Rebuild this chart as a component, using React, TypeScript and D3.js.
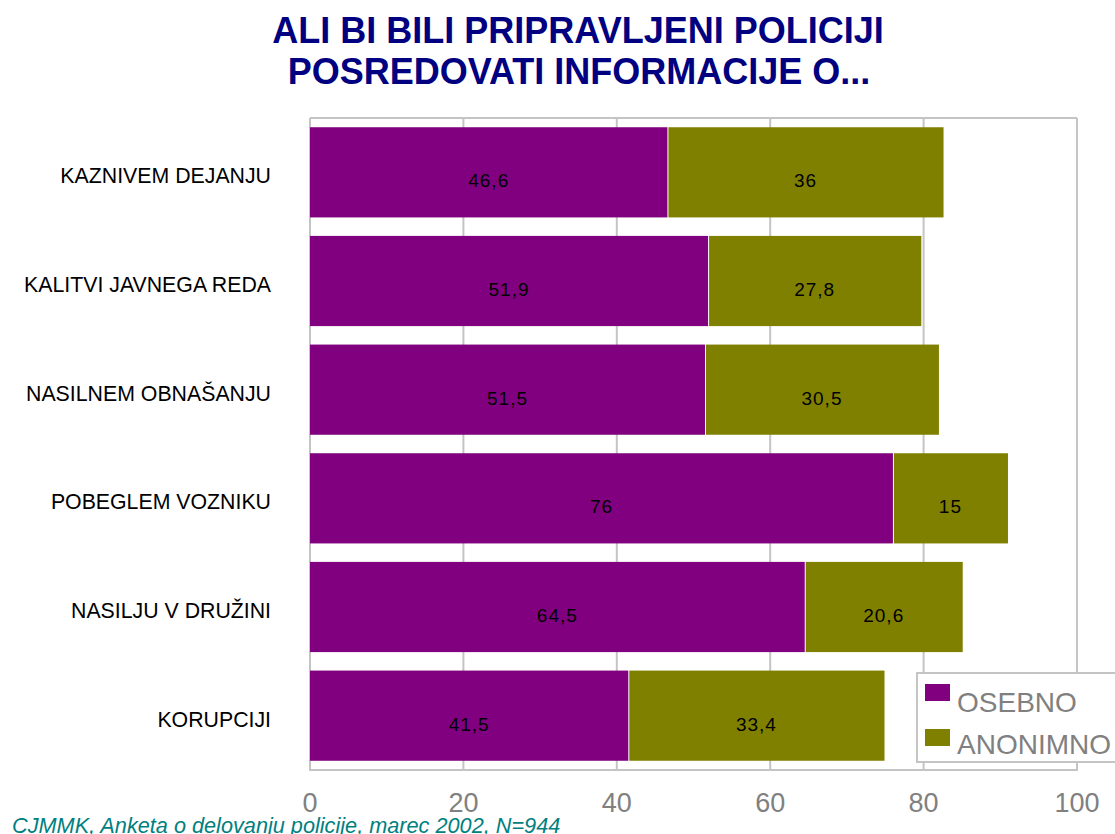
// @ts-nocheck
import React from "react";
import * as d3 from "d3";

const categories = [
  "KAZNIVEM DEJANJU",
  "KALITVI JAVNEGA REDA",
  "NASILNEM OBNAŠANJU",
  "POBEGLEM VOZNIKU",
  "NASILJU V DRUŽINI",
  "KORUPCIJI",
];
const osebno = [46.6, 51.9, 51.5, 76, 64.5, 41.5];
const anonimno = [36, 27.8, 30.5, 15, 20.6, 33.4];
const seriesNames = ["OSEBNO", "ANONIMNO"];
const xTicks = [0, 20, 40, 60, 80, 100];

const width = 1115;
const height = 834;
const FONT = "'Liberation Sans', Arial, Helvetica, sans-serif";
const colors = ["#800080", "#808000"];
const gridColor = "#c4c4c4";

const fmt = (v) => String(v).replace(".", ",");

export default function App() {
  const left = 310,
    right = 1077,
    top = 118,
    bottom = 770;

  const x = d3.scaleLinear().domain([0, 100]).range([left, right]);
  const y = d3
    .scaleBand()
    .domain(categories)
    .range([top, bottom])
    .paddingInner(0.17)
    .paddingOuter(0.085);

  const rows = categories.map((c, i) => ({ cat: c, a: osebno[i], b: anonimno[i] }));

  return (
    <>
      <style>{"body{margin:0;overflow:hidden}"}</style>
      <svg width={width} height={height} style={{ display: "block", fontFamily: FONT }}>
        <rect width={width} height={height} fill="#fff" />

        {/* title */}
        <text x={578} y={43} textAnchor="middle" fill="#000080" fontSize={36} fontWeight="bold">
          ALI BI BILI PRIPRAVLJENI POLICIJI
        </text>
        <text x={579} y={84} textAnchor="middle" fill="#000080" fontSize={36} fontWeight="bold">
          POSREDOVATI INFORMACIJE O...
        </text>

        {/* grid + frame */}
        {xTicks.map((t) => (
          <line key={t} x1={x(t)} x2={x(t)} y1={top} y2={bottom} stroke={gridColor} strokeWidth={2} />
        ))}
        <line x1={left} x2={right} y1={top} y2={top} stroke={gridColor} strokeWidth={2} />
        <line x1={left - 1} x2={right + 1} y1={bottom} y2={bottom} stroke={gridColor} strokeWidth={2} />

        {/* bars */}
        {rows.map((r) => {
          const y0 = y(r.cat);
          const bw = y.bandwidth();
          const cy = y0 + bw / 2;
          return (
            <g key={r.cat}>
              <rect x={x(0)} y={y0} width={x(r.a) - x(0)} height={bw} fill={colors[0]} />
              <rect x={x(r.a) + 1} y={y0} width={x(r.a + r.b) - x(r.a) - 1} height={bw} fill={colors[1]} />
              <text x={(x(0) + x(r.a)) / 2} y={cy + 15} textAnchor="middle" fontSize={19} letterSpacing={1} fill="#000">
                {fmt(r.a)}
              </text>
              <text x={(x(r.a) + x(r.a + r.b)) / 2} y={cy + 15} textAnchor="middle" fontSize={19} letterSpacing={1} fill="#000">
                {fmt(r.b)}
              </text>
              <text x={271} y={cy + 11} textAnchor="end" fontSize={21.3} fill="#000">
                {r.cat}
              </text>
            </g>
          );
        })}

        {/* x tick labels */}
        {xTicks.map((t) => (
          <text key={t} x={x(t)} y={812} textAnchor="middle" fontSize={27} fill="#808080">
            {t}
          </text>
        ))}

        {/* legend */}
        <rect x={917} y={673} width={220} height={89} fill="#fff" stroke={gridColor} strokeWidth={2} />
        {seriesNames.map((s, i) => (
          <g key={s}>
            <rect x={925} y={684 + i * 45} width={25} height={17} fill={colors[i]} />
            <text x={957} y={712 + i * 42} fontSize={28} fill="#808080">
              {s}
            </text>
          </g>
        ))}

        {/* source note */}
        <text x={12} y={833} fontSize={21.7} fontStyle="italic" fill="#008080">
          CJMMK, Anketa o delovanju policije, marec 2002, N=944
        </text>
      </svg>
    </>
  );
}
